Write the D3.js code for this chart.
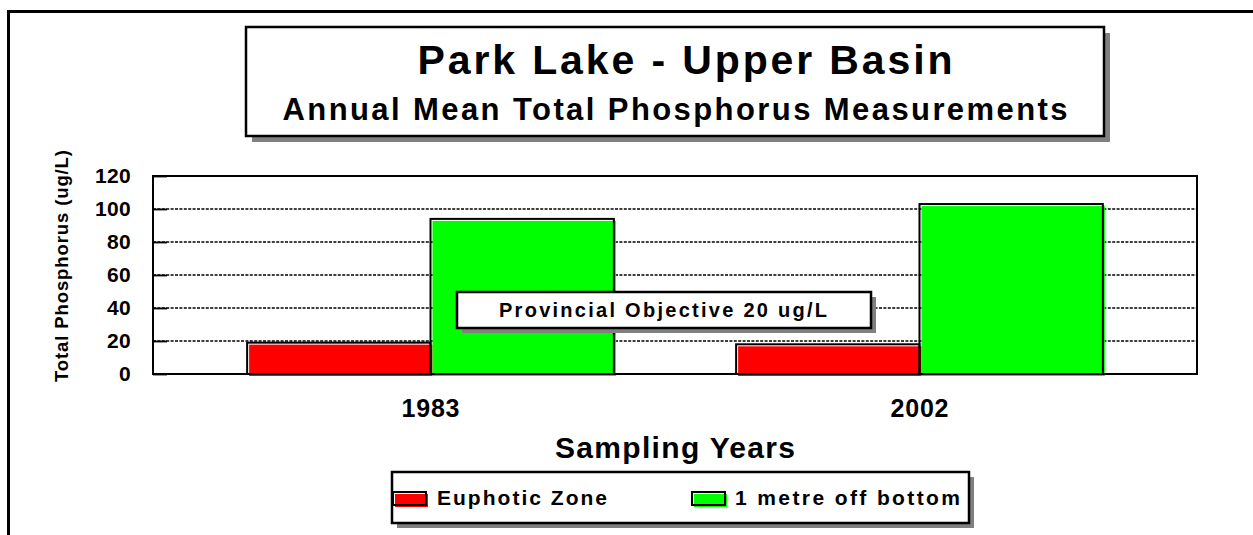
<!DOCTYPE html>
<html>
<head>
<meta charset="utf-8">
<script src="https://cdn.jsdelivr.net/npm/d3@7"></script>
<style>
  body { margin: 0; background: #fff; }
  text { font-family: Arial, "Liberation Sans", sans-serif; font-weight: bold; fill: #000; }
</style>
</head>
<body>
<script>
// chart data
var years = ["1983", "2002"];
var seriesNames = ["Euphotic Zone", "1 metre off bottom"];
var euphotic = [19, 18];
var offBottom = [94, 103];
var yTicks = [0, 20, 40, 60, 80, 100, 120];
var seriesColors = ["#ff0000", "#00ff00"];

var width = 1253;
var height = 535;

var plotLeft = 153, plotRight = 1197, plotTop = 176, plotBottom = 374;

var svg = d3.select("body")
  .append("svg")
  .attr("width", width)
  .attr("height", height);

// outer frame (runs off the right and bottom edge)
svg.append("rect")
  .attr("x", 8.5).attr("y", 11.5)
  .attr("width", width + 20).attr("height", height + 20)
  .attr("fill", "#fff")
  .attr("stroke", "#000")
  .attr("stroke-width", 3);

// helper for the boxes with grey drop shadow
function shadowBox(x, y, w, h, off, sw) {
  svg.append("rect")
    .attr("x", x + off).attr("y", y + off)
    .attr("width", w).attr("height", h)
    .attr("fill", "#808080");
  svg.append("rect")
    .attr("x", x).attr("y", y)
    .attr("width", w).attr("height", h)
    .attr("fill", "#fff")
    .attr("stroke", "#000")
    .attr("stroke-width", sw);
}

// title box
shadowBox(246, 27, 858, 109, 6, 2.5);
svg.append("text")
  .attr("x", 685).attr("y", 74)
  .attr("text-anchor", "middle")
  .attr("font-size", 41)
  .attr("textLength", 535)
  .attr("lengthAdjust", "spacing")
  .text("Park Lake - Upper Basin");
svg.append("text")
  .attr("x", 675).attr("y", 120)
  .attr("text-anchor", "middle")
  .attr("font-size", 31)
  .attr("textLength", 785)
  .attr("lengthAdjust", "spacing")
  .text("Annual Mean Total Phosphorus Measurements");

// scales
var y = d3.scaleLinear()
  .domain([0, 120])
  .range([plotBottom, plotTop]);

var x0 = d3.scaleBand()
  .domain(years)
  .range([plotLeft, plotRight])
  .paddingInner(0.25)
  .paddingOuter(0.1925);

var x1 = d3.scaleBand()
  .domain(seriesNames)
  .range([0, x0.bandwidth()]);

var color = d3.scaleOrdinal()
  .domain(seriesNames)
  .range(seriesColors);

// plot background
svg.append("rect")
  .attr("x", plotLeft).attr("y", plotTop)
  .attr("width", plotRight - plotLeft).attr("height", plotBottom - plotTop)
  .attr("fill", "#fff");

// dashed gridlines
svg.append("g")
  .selectAll("line")
  .data(yTicks.filter(function(d) { return d > 0 && d < 120; }))
  .enter()
  .append("line")
  .attr("x1", plotLeft).attr("x2", plotRight)
  .attr("y1", function(d) { return y(d); })
  .attr("y2", function(d) { return y(d); })
  .attr("stroke", "#000")
  .attr("stroke-width", 1.6)
  .attr("stroke-dasharray", "3,1.4");

// y axis with inner ticks
var yAxis = svg.append("g")
  .attr("transform", "translate(" + plotLeft + ",0)")
  .call(d3.axisLeft(y).tickValues(yTicks).tickSizeInner(-14).tickSizeOuter(0).tickPadding(22));
yAxis.select(".domain").remove();
yAxis.selectAll(".tick line").attr("stroke", "#000").attr("stroke-width", 1.8);
yAxis.selectAll(".tick text")
  .attr("font-size", 21)
  .attr("font-family", "Arial, 'Liberation Sans', sans-serif")
  .attr("font-weight", "bold")
  .attr("fill", "#000")
  .attr("letter-spacing", 0.3);

// bars
var rows = years.map(function(yr, i) {
  return { year: yr, values: [
    { key: seriesNames[0], value: euphotic[i] },
    { key: seriesNames[1], value: offBottom[i] }
  ]};
});

var groups = svg.append("g")
  .selectAll("g")
  .data(rows)
  .enter()
  .append("g")
  .attr("transform", function(d) { return "translate(" + x0(d.year) + ",0)"; });

// coloured fill sits slightly offset under the outline, as in the source
groups.selectAll("rect.fill")
  .data(function(d) { return d.values; })
  .enter()
  .append("rect")
  .attr("class", "fill")
  .attr("x", function(d) { return x1(d.key) + 2; })
  .attr("y", function(d) { return y(d.value) + 2; })
  .attr("width", x1.bandwidth())
  .attr("height", function(d) { return plotBottom - y(d.value); })
  .attr("fill", function(d) { return color(d.key); });

groups.selectAll("rect.edge")
  .data(function(d) { return d.values; })
  .enter()
  .append("rect")
  .attr("class", "edge")
  .attr("x", function(d) { return x1(d.key); })
  .attr("y", function(d) { return y(d.value); })
  .attr("width", x1.bandwidth())
  .attr("height", function(d) { return plotBottom - y(d.value); })
  .attr("fill", "none")
  .attr("stroke", "#000")
  .attr("stroke-width", 2);

// plot border
svg.append("rect")
  .attr("x", plotLeft).attr("y", plotTop)
  .attr("width", plotRight - plotLeft).attr("height", plotBottom - plotTop)
  .attr("fill", "none")
  .attr("stroke", "#000")
  .attr("stroke-width", 2);

// category labels
svg.append("g")
  .selectAll("text")
  .data(years)
  .enter()
  .append("text")
  .attr("x", function(d) { return x0(d) + x0.bandwidth() / 2; })
  .attr("y", 417)
  .attr("text-anchor", "middle")
  .attr("font-size", 25)
  .attr("textLength", 58)
  .attr("lengthAdjust", "spacing")
  .text(function(d) { return d; });

// axis titles
svg.append("text")
  .attr("x", 675).attr("y", 458)
  .attr("text-anchor", "middle")
  .attr("font-size", 30)
  .attr("textLength", 240)
  .attr("lengthAdjust", "spacing")
  .text("Sampling Years");

svg.append("text")
  .attr("transform", "translate(68,266) rotate(-90)")
  .attr("text-anchor", "middle")
  .attr("font-size", 18.5)
  .attr("textLength", 232)
  .attr("lengthAdjust", "spacing")
  .text("Total Phosphorus (ug/L)");

// provincial objective note
shadowBox(457, 292, 414, 36, 5, 2.5);
svg.append("text")
  .attr("x", 663).attr("y", 317)
  .attr("text-anchor", "middle")
  .attr("font-size", 20)
  .attr("textLength", 328)
  .attr("lengthAdjust", "spacing")
  .text("Provincial Objective 20 ug/L");

// legend
shadowBox(392, 472, 577, 51, 5, 2.5);
var legendX = [393, 692];
var legendTextX = [437, 735];
var legendTextW = [170, 225];
var legend = svg.append("g")
  .selectAll("g")
  .data(seriesNames)
  .enter()
  .append("g");

legend.append("rect")
  .attr("x", function(d, i) { return legendX[i] + 2; })
  .attr("y", 494)
  .attr("width", 33).attr("height", 13)
  .attr("fill", function(d) { return color(d); });
legend.append("rect")
  .attr("x", function(d, i) { return legendX[i]; })
  .attr("y", 492)
  .attr("width", 33).attr("height", 13)
  .attr("fill", "none")
  .attr("stroke", "#000")
  .attr("stroke-width", 2);
legend.append("text")
  .attr("x", function(d, i) { return legendTextX[i]; })
  .attr("y", 505)
  .attr("font-size", 21)
  .attr("textLength", function(d, i) { return legendTextW[i]; })
  .attr("lengthAdjust", "spacing")
  .text(function(d) { return d; });
</script>
</body>
</html>
